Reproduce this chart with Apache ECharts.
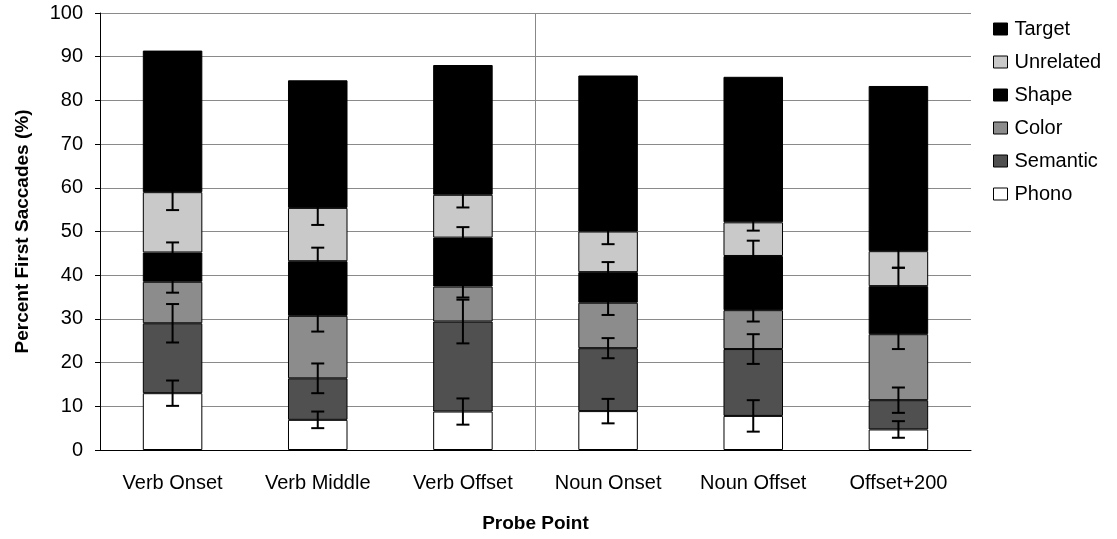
<!DOCTYPE html>
<html>
<head>
    <meta charset="utf-8">
    <title>Probe Point</title>
    <script src="https://cdn.jsdelivr.net/npm/echarts@6/dist/echarts.min.js"></script>
    <style>
        html, body { margin: 0; padding: 0; background: #fff; }
        #main { width: 1117px; height: 539px; }
    </style>
</head>
<body>
<div id="main"></div>
<script>
    // 数据 (stacked from bottom: Phono ... Target)
    var categories = ['Verb Onset', 'Verb Middle', 'Verb Offset', 'Noun Onset', 'Noun Offset', 'Offset+200'];
    var phono     = [13.0, 6.9, 8.8, 8.9, 7.8, 4.7];
    var semantic  = [16.0, 9.5, 20.6, 14.4, 15.3, 6.7];
    var color     = [9.5, 14.3, 8.0, 10.4, 8.9, 15.1];
    var shape     = [6.7, 12.5, 11.2, 7.0, 12.4, 11.0];
    var unrelated = [13.8, 12.2, 9.8, 9.3, 7.7, 8.0];
    var target    = [32.4, 29.2, 29.7, 35.7, 33.3, 37.8];

    // error bar half-widths (drawn at the top of each segment)
    var phonoErr     = [2.9, 1.9, 3.0, 2.8, 3.6, 1.9];
    var semanticErr  = [4.4, 3.4, 5.0, 2.3, 3.4, 2.9];
    var colorErr     = [2.5, 3.6, 2.5, 2.8, 2.6, 3.4];
    var shapeErr     = [2.3, 3.1, 2.4, 2.3, 3.5, 4.2];
    var unrelatedErr = [4.1, 3.9, 2.9, 2.9, 1.9, 3.8];

    var yTicks = [0, 10, 20, 30, 40, 50, 60, 70, 80, 90, 100];

    var font = 'Liberation Sans, Arial, sans-serif';

    var stackList = [
        {name: 'Phono', data: phono, err: phonoErr, fill: '#ffffff'},
        {name: 'Semantic', data: semantic, err: semanticErr, fill: '#505050'},
        {name: 'Color', data: color, err: colorErr, fill: '#8c8c8c'},
        {name: 'Shape', data: shape, err: shapeErr, fill: '#000000'},
        {name: 'Unrelated', data: unrelated, err: unrelatedErr, fill: '#c9c9c9'},
        {name: 'Target', data: target, err: null, fill: '#000000'}
    ];

    var series = [];
    var errData = [];
    var cum = categories.map(function () { return 0; });
    stackList.forEach(function (s) {
        series.push({
            name: s.name,
            type: 'bar',
            stack: 'all',
            barWidth: '41%',
            data: s.data,
            itemStyle: {color: s.fill, borderColor: '#000', borderWidth: 1},
            emphasis: {disabled: true}
        });
        for (var i = 0; i < categories.length; i++) {
            cum[i] += s.data[i];
            if (s.err) {
                errData.push([i, cum[i] - s.err[i], cum[i] + s.err[i]]);
            }
        }
    });

    // 误差线
    series.push({
        name: 'err',
        type: 'custom',
        z: 10,
        data: errData,
        renderItem: function (params, api) {
            var lo = api.coord([api.value(0), api.value(1)]);
            var hi = api.coord([api.value(0), api.value(2)]);
            var w = 6.5;
            var st = {stroke: '#000', lineWidth: 2};
            return {
                type: 'group',
                children: [
                    {type: 'line', shape: {x1: lo[0], y1: lo[1], x2: hi[0], y2: hi[1]}, style: st},
                    {type: 'line', shape: {x1: lo[0] - w, y1: lo[1], x2: lo[0] + w, y2: lo[1]}, style: st},
                    {type: 'line', shape: {x1: hi[0] - w, y1: hi[1], x2: hi[0] + w, y2: hi[1]}, style: st}
                ]
            };
        }
    });

    // verb / noun separator
    series.push({
        name: 'sep',
        type: 'line',
        xAxisIndex: 1,
        data: [[3, 0], [3, 100]],
        symbol: 'none',
        lineStyle: {color: '#888', width: 1},
        silent: true
    });

    var myChart = echarts.init(document.getElementById('main'));
    var option = {
        animation: false,
        textStyle: {fontFamily: font},
        grid: {left: 100, right: 146, top: 13, bottom: 89, outerBoundsMode: 'none', containLabel: false},
        legend: {
            orient: 'vertical',
            left: 988,
            top: 14,
            icon: 'rect',
            itemGap: 13,
            itemWidth: 14,
            itemHeight: 12,
            data: ['Target', 'Unrelated', 'Shape', 'Color', 'Semantic', 'Phono'],
            textStyle: {fontSize: 20, color: '#000', fontFamily: font, padding: [0, 0, 0, 2]},
            itemStyle: {borderColor: '#000', borderWidth: 1}
        },
        xAxis: [{
            type: 'category',
            data: categories,
            name: 'Probe Point',
            nameLocation: 'middle',
            nameGap: 64,
            nameTextStyle: {fontSize: 19, fontWeight: 'bold', color: '#000'},
            axisLine: {lineStyle: {color: '#000'}},
            axisTick: {length: 5, lineStyle: {color: '#000'}},
            axisLabel: {fontSize: 20, color: '#000', margin: 23}
        }, {
            type: 'value',
            min: 0,
            max: 6,
            show: false
        }],
        yAxis: {
            type: 'value',
            min: yTicks[0],
            max: yTicks[yTicks.length - 1],
            interval: 10,
            name: 'Percent First Saccades (%)',
            nameLocation: 'middle',
            nameGap: 68,
            nameTextStyle: {fontSize: 19, fontWeight: 'bold', color: '#000'},
            axisLine: {show: true, lineStyle: {color: '#000'}},
            axisTick: {show: true, length: 5, lineStyle: {color: '#000'}},
            axisLabel: {fontSize: 20, color: '#000', margin: 17},
            splitLine: {lineStyle: {color: '#8a8a8a', width: 1}}
        },
        series: series
    };
    myChart.setOption(option);
</script>
</body>
</html>
